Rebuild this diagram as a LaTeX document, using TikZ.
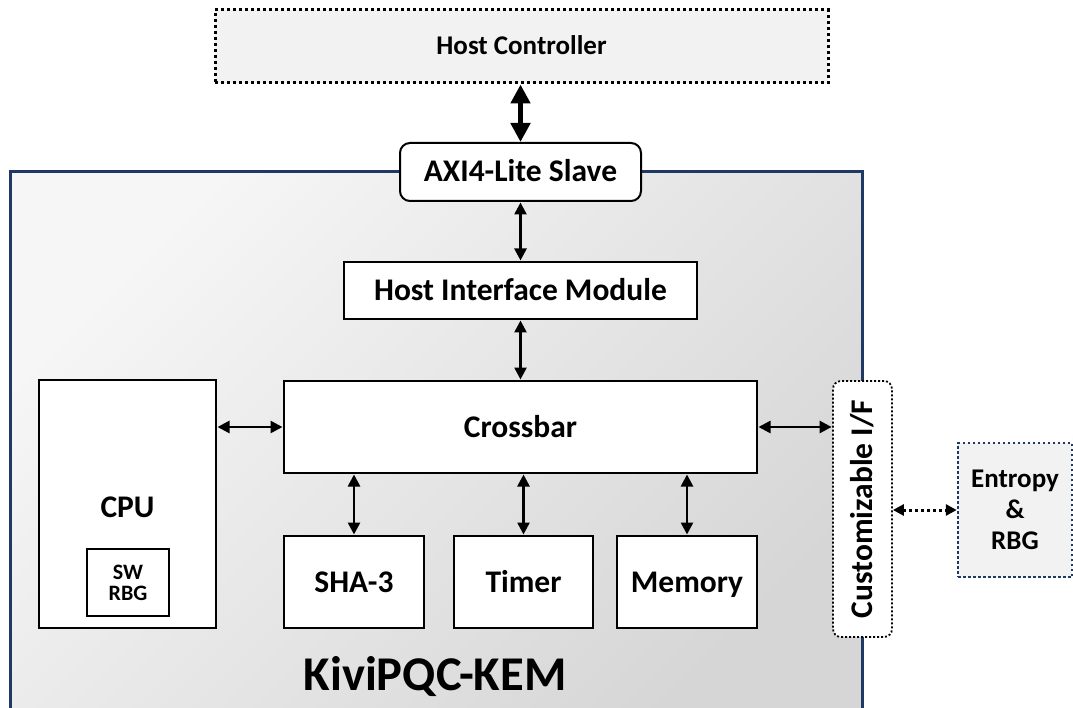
\documentclass[tikz,border=0pt]{standalone}
\usepackage{fontspec}
\setmainfont{Carlito}
\usetikzlibrary{arrows.meta}
\definecolor{navy}{HTML}{1F3864}
\begin{document}
\begin{tikzpicture}[x=1pt,y=-1pt,
  blk/.style={draw=black, line width=2pt, fill=white, inner sep=0pt, align=center,
    font=\fontsize{31.5}{34}\selectfont\bfseries, text height=20pt, text depth=0pt},
  arr/.style={line width=2.6pt, {Triangle[length=12pt,width=12pt]}-{Triangle[length=12pt,width=12pt]}, shorten <=0.5pt, shorten >=0.5pt},
  bigarr/.style={line width=5pt, {Triangle[length=19pt,width=19pt]}-{Triangle[length=19pt,width=19pt]}},
  dotarr/.style={line width=3pt, dash pattern=on 3pt off 3pt, {Triangle[length=11pt,width=11pt]}-{Triangle[length=11pt,width=11pt]}}
]
\useasboundingbox (0,0) rectangle (1073,708);
% main box
\node (kem) [draw=navy, line width=3pt, minimum width=852pt, minimum height=540pt, inner sep=0pt,
  top color=gray!7, bottom color=gray!32, shading angle=45] at (436,442) {};
\node (kemlabel) [font=\fontsize{48.5}{52}\selectfont\bfseries, anchor=base] at (435,690) {KiviPQC-KEM};
% host controller
\node (hc) [draw=black, line width=3pt, dash pattern=on 3pt off 3pt, fill=gray!10,
  minimum width=613pt, minimum height=73pt, inner sep=0pt, text height=17pt, text depth=0pt,
  font=\fontsize{27}{30}\selectfont\bfseries] at (521.5,46.5) {Host Controller};
% blocks
\node (axi) [blk, rounded corners=10pt, minimum width=241pt, minimum height=58pt] at (520.5,172) {AXI4-Lite Slave};
\node (him) [blk, minimum width=353pt, minimum height=57pt] at (520.5,290.5) {Host Interface Module};
\node (xbar) [blk, minimum width=473pt, minimum height=92pt] at (520.5,427) {Crossbar};
\node (cpu) [blk, minimum width=177pt, minimum height=248pt] at (127.5,504) {};
\node (cputext) [font=\fontsize{31.5}{34}\selectfont\bfseries, anchor=base] at (127.5,517) {CPU};
\node (swrbg) [draw=black, line width=1.6pt, fill=white, inner sep=0pt, align=center,
  minimum width=82pt, minimum height=67pt,
  font=\fontsize{22}{21}\selectfont\bfseries] at (128,582.5) {SW\\RBG};
\node (sha) [blk, minimum width=140pt, minimum height=92pt] at (354,582) {SHA-3};
\node (tim) [blk, minimum width=139pt, minimum height=92pt] at (523.5,582) {Timer};
\node (mem) [blk, minimum width=140pt, minimum height=92pt] at (687,582) {Memory};
\node (cif) [draw=black, line width=1.8pt, dash pattern=on 2pt off 2pt, fill=white, rounded corners=8pt,
  minimum width=59pt, minimum height=256pt, inner sep=0pt] at (862.5,509) {};
\node (ciftext) [rotate=90, font=\fontsize{31.5}{34}\selectfont\bfseries, text height=20pt, text depth=0pt, inner sep=0pt] at (862.5,509) {Customizable I/F};
\node (ent) [draw=navy, line width=2.5pt, dash pattern=on 2.5pt off 2.5pt, fill=gray!10,
  minimum width=114pt, minimum height=134pt, inner sep=0pt, align=center,
  font=\fontsize{27}{31}\selectfont\bfseries] at (1015,510) {Entropy\\\&\\RBG};
% connectors
\draw[bigarr] (hc.south -| axi.north) -- (axi.north);
\draw[arr] (axi.south) -- (him.north);
\draw[arr] (him.south) -- (xbar.north);
\draw[arr] (cpu.east |- xbar.west) -- (xbar.west);
\draw[arr] (xbar.east) -- (cif.west |- xbar.east);
\draw[arr] (xbar.south -| sha.north) -- (sha.north);
\draw[arr] (xbar.south -| tim.north) -- (tim.north);
\draw[arr] (xbar.south -| mem.north) -- (mem.north);
\draw[dotarr] (cif.east |- ent.west) -- (ent.west);
\end{tikzpicture}
\end{document}
